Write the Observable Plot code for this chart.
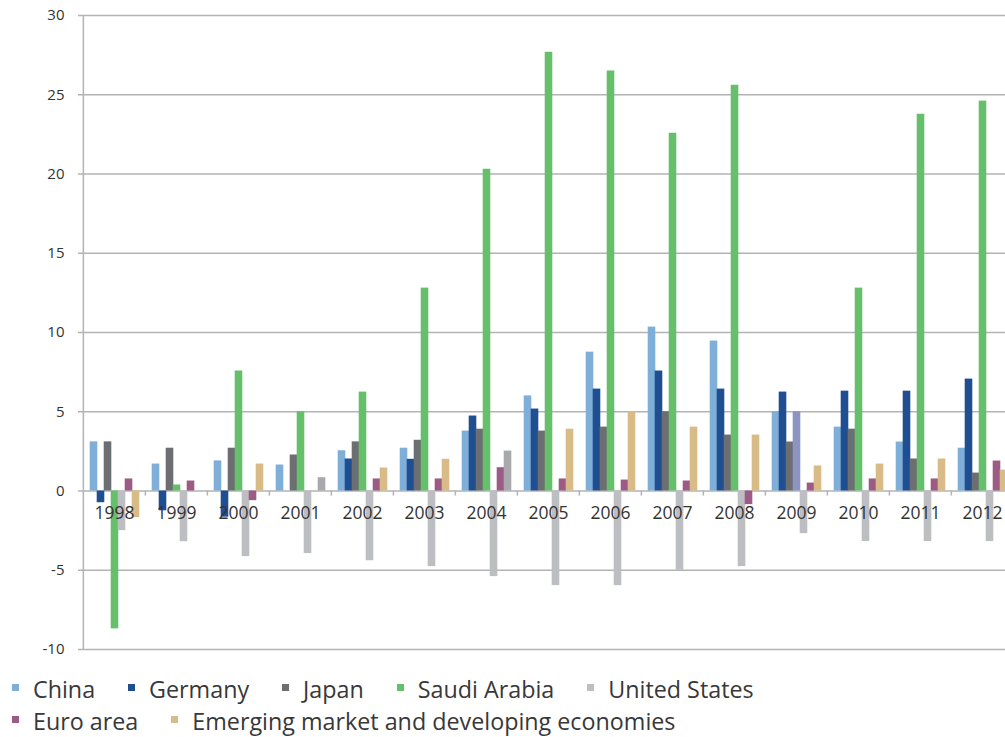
<!DOCTYPE html>
<html>
<head>
<meta charset="utf-8">
<script src="https://cdn.jsdelivr.net/npm/d3@7"></script>
<script src="https://cdn.jsdelivr.net/npm/@observablehq/plot@0.6"></script>
<style>
  html, body { margin: 0; padding: 0; background: #fff; overflow: hidden; }
  #chart svg { display: block; }
  .legend { font-family: "Open Sans", sans-serif; font-size: 23.3px; color: #383838; padding-left: 12px; }
  .row { display: flex; align-items: center; height: 32px; line-height: 32px; white-space: nowrap; }
  .item { display: flex; align-items: center; margin-right: 33px; }
  .sw { width: 7px; height: 7px; margin-right: 14px; margin-top: -3px; }
</style>
</head>
<body>
<div id="chart"></div>
<div class="legend" id="legend"></div>
<script>
const years = ["1998","1999","2000","2001","2002","2003","2004","2005","2006","2007","2008","2009","2010","2011","2012"];
const series = ["China","Germany","Japan","Saudi Arabia","United States","Euro area","Emerging market and developing economies"];
const colors = ["#7fafd8","#1f4e91","#6d6e71","#66bf6a","#bdbec1","#9b5b84","#d9bb88"];

const china   = [3.1, 1.7, 1.9, 1.64, 2.54, 2.7, 3.78, 6.0, 8.76, 10.34, 9.46, 5.0, 4.03, 3.09, 2.7];
const germany = [-0.74, -1.25, -1.65, 0, 2.02, 2.0, 4.73, 5.17, 6.43, 7.57, 6.43, 6.24, 6.3, 6.3, 7.06];
const japan   = [3.1, 2.7, 2.7, 2.27, 3.1, 3.2, 3.9, 3.78, 4.03, 5.0, 3.53, 3.09, 3.9, 2.02, 1.13];
const saudi   = [-8.7, 0.38, 7.57, 5.0, 6.24, 12.8, 20.3, 27.68, 26.5, 22.57, 25.6, 5.0, 12.8, 23.77, 24.6];
const us      = [-2.5, -3.2, -4.14, -3.95, -4.4, -4.77, -5.4, -5.97, -5.97, -5.0, -4.77, -2.69, -3.19, -3.19, -3.19];
const euro    = [0.76, 0.63, -0.61, 0, 0.76, 0.76, 1.47, 0.76, 0.69, 0.63, -0.86, 0.5, 0.76, 0.76, 1.89];
const emde    = [-1.68, 0, 1.7, 0.84, 1.45, 2.0, 2.52, 3.9, 5.0, 4.03, 3.53, 1.58, 1.7, 2.02, 1.32];

// individually recoloured points in the original
const altKeys = ["alt gray", "alt periwinkle"];
const altColors = ["#a8a9ac", "#8c94c1"];
const overrides = [
  {year: "2001", series: "Emerging market and developing economies", key: "alt gray"},
  {year: "2004", series: "Emerging market and developing economies", key: "alt gray"},
  {year: "2009", series: "Saudi Arabia", key: "alt periwinkle"}
];

const yTicks = [-10, -5, 0, 5, 10, 15, 20, 25, 30];

const values = [china, germany, japan, saudi, us, euro, emde];
const rows = [];
years.forEach((yr, i) => {
  series.forEach((s, j) => {
    const o = overrides.find(d => d.year === yr && d.series === s);
    rows.push({year: yr, series: s, value: values[j][i], key: o ? o.key : s});
  });
});

const W = 1005, H = 673, ML = 81, MR = -10;
const band = (W - MR - ML) / years.length;
const gridColor = "#b3b3b6";

const chart = Plot.plot({
  width: W,
  height: H,
  marginTop: 15,
  marginBottom: 24,
  marginLeft: ML,
  marginRight: MR,
  style: {fontFamily: "Open Sans, sans-serif", color: "#333", overflow: "hidden", background: "#fff"},
  fx: {domain: years, padding: 0, axis: null},
  x: {domain: series, paddingInner: 0, paddingOuter: 0.77, axis: null},
  y: {domain: [-10, 30]},
  color: {domain: [...series, ...altKeys], range: [...colors, ...altColors]},
  marks: [
    Plot.ruleY(yTicks, {stroke: gridColor, strokeWidth: 1.5}),
    Plot.ruleX([years[0]], {fx: d => d, x: null, dx: -band / 2, stroke: gridColor, strokeWidth: 1.5}),
    Plot.axisY({ticks: yTicks, tickSize: 5, tickPadding: 14, fontSize: 15, tickFormat: d => String(d), stroke: gridColor, strokeWidth: 1.5, label: null}),
    Plot.barY(rows, {fx: "year", x: "series", y: "value", fill: "key", insetLeft: -0.3, insetRight: -0.3}),
    Plot.ruleX(years.slice(1), {fx: d => d, x: null, dx: -band / 2, y1: () => 0, y2: () => -0.32, stroke: gridColor, strokeWidth: 1.5}),
    Plot.text(years, {fx: d => d, y: () => 0, text: d => d, dy: 22, fontSize: 17.5, fill: "#333"})
  ]
});
document.getElementById("chart").appendChild(chart);

// legend
const legendRows = [series.slice(0, 5), series.slice(5)];
const legend = document.getElementById("legend");
legendRows.forEach(r => {
  const row = document.createElement("div");
  row.className = "row";
  r.forEach(s => {
    const item = document.createElement("div");
    item.className = "item";
    const sw = document.createElement("span");
    sw.className = "sw";
    sw.style.background = colors[series.indexOf(s)];
    const t = document.createElement("span");
    t.textContent = s;
    item.appendChild(sw);
    item.appendChild(t);
    row.appendChild(item);
  });
  legend.appendChild(row);
});
</script>
</body>
</html>
